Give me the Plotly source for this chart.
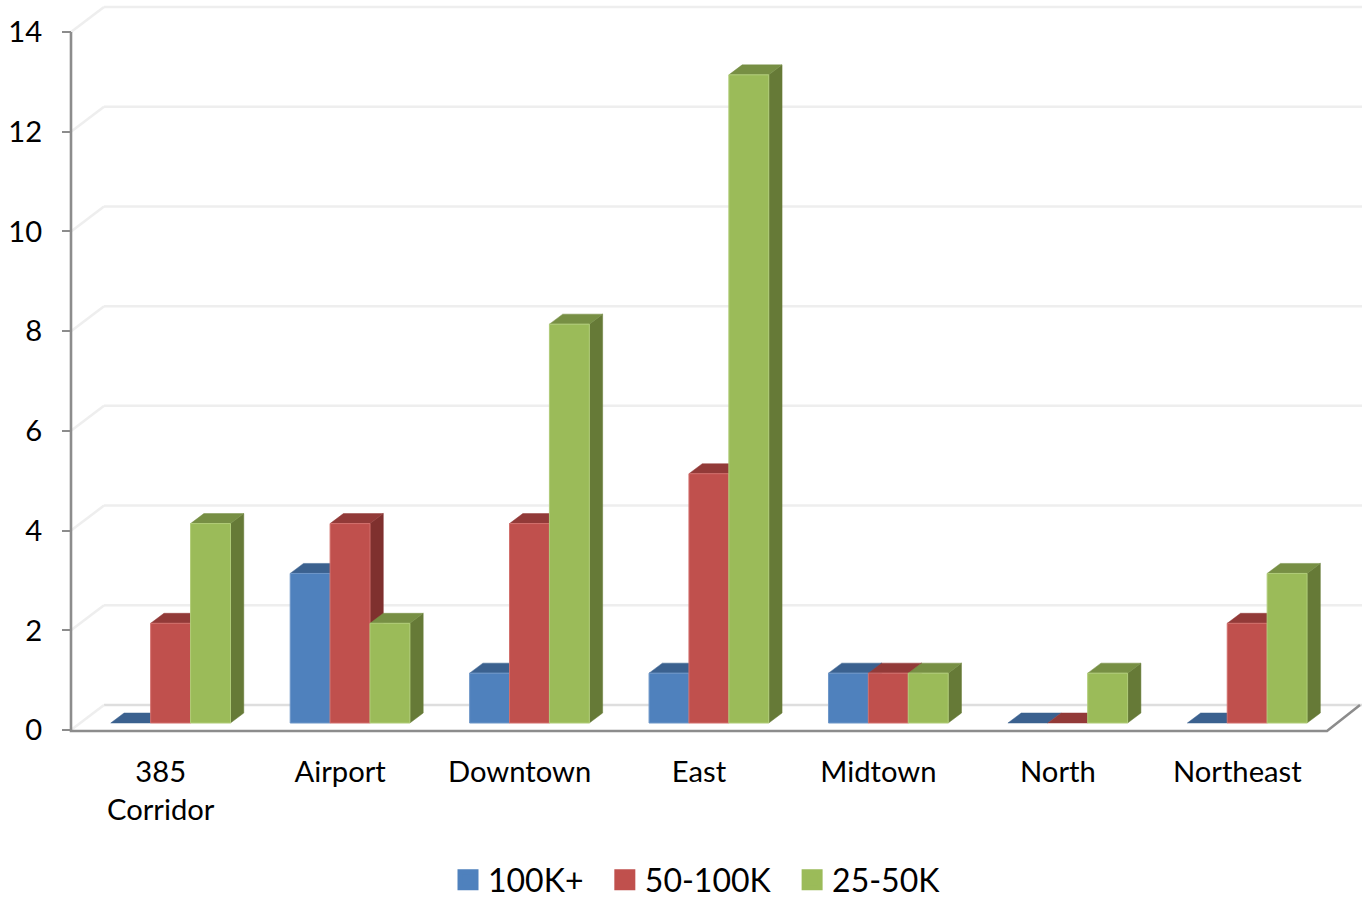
import plotly.graph_objects as go

# Chart data
CATEGORIES = ["385<br>Corridor", "Airport", "Downtown", "East", "Midtown", "North", "Northeast"]
SERIES_NAMES = ["100K+", "50-100K", "25-50K"]
VALUES_100K = [0, 3, 1, 1, 1, 0, 0]
VALUES_50K = [2, 4, 4, 5, 1, 0, 2]
VALUES_25K = [4, 2, 8, 13, 1, 1, 3]
Y_TICKS = [0, 2, 4, 6, 8, 10, 12, 14]

# Face colours per series: front, top, side, front edge
FRONT = ["#4F81BD", "#C0504D", "#9BBB59"]
TOP = ["#3B618F", "#923A38", "#778F44"]
SIDE = ["#355680", "#7F302E", "#667A37"]
EDGE = ["#6F97C8", "#D26F6C", "#B0CC78"]

# Layout of the pseudo-3D box, in pixels
WIDTH, HEIGHT = 1366, 898
AXIS_LEFT, AXIS_BASE = 71, 730
PX_PER_CAT = 179.43
PX_PER_UNIT = 49.857

# The same offsets converted to axis units
to_x = lambda px: px / PX_PER_CAT
to_y = lambda px: px / PX_PER_UNIT
BAR_W = to_x(39.9)
BAR_SHIFT = to_x(9.9)
DEPTH_X, DEPTH_Y = to_x(13.3), to_y(10)
BASE_Y = to_y(7)
WALL_X, WALL_Y = to_x(33), to_y(25)

# Axis position of the front-left corner, and the full extent of the page
X_CORNER = -0.5
X_LOW = X_CORNER - to_x(AXIS_LEFT)
X_HIGH = X_CORNER + to_x(WIDTH - AXIS_LEFT)
Y_LOW = -to_y(HEIGHT - AXIS_BASE)
Y_HIGH = to_y(AXIS_BASE)
X_FRONT_END = X_CORNER + to_x(1327 - AXIS_LEFT)
FLOOR_EDGE = -to_y(1)

# Padding after a legend entry, to open up the gap before the next swatch
LEGEND_PAD = "\u00a0\u00a0"


def line(xs, ys, color, width):
    return go.Scatter(x=xs, y=ys, mode="lines", line=dict(color=color, width=width),
                      hoverinfo="skip", showlegend=False)


def faces(color, edge, width, xs, ys):
    return go.Scatter(x=xs, y=ys, mode="lines", fill="toself", fillcolor=color,
                      line=dict(color=edge, width=width), hoverinfo="skip",
                      showlegend=False)


fig = go.Figure()

# Back and side walls: one grid line per tick
for t in Y_TICKS:
    col = "#DEDEDE" if t == 0 else "#EEEEEE"
    fig.add_trace(line([X_CORNER + WALL_X, X_HIGH - to_x(4)], [t + WALL_Y, t + WALL_Y], col, 2.5))
    fig.add_trace(line([X_CORNER, X_CORNER + WALL_X], [t, t + WALL_Y], "#EEEEEE", 2.5))

# Bars, left to right within each group so that nearer faces overlap correctly
for s, values in enumerate([VALUES_100K, VALUES_50K, VALUES_25K]):
    fx, fy, tx, ty, sx, sy = [], [], [], [], [], []
    for i, v in enumerate(values):
        x0 = i + BAR_SHIFT + (s - 1.5) * BAR_W
        x1 = x0 + BAR_W
        y0, y1 = BASE_Y, BASE_Y + v
        tx += [x0, x1, x1 + DEPTH_X, x0 + DEPTH_X, x0, None]
        ty += [y1, y1, y1 + DEPTH_Y, y1 + DEPTH_Y, y1, None]
        if v > 0:
            fx += [x0, x1, x1, x0, x0, None]
            fy += [y0, y0, y1, y1, y0, None]
            sx += [x1, x1 + DEPTH_X, x1 + DEPTH_X, x1, x1, None]
            sy += [y0, y0 + DEPTH_Y, y1 + DEPTH_Y, y1, y0, None]
    fig.add_trace(faces(SIDE[s], SIDE[s], 0.5, sx, sy))
    fig.add_trace(faces(TOP[s], TOP[s], 0.5, tx, ty))
    fig.add_trace(faces(FRONT[s], EDGE[s], 1, fx, fy))

# Axis frame: vertical axis, front floor edge and right floor edge
fig.add_trace(line([X_CORNER, X_CORNER, X_FRONT_END, X_FRONT_END + WALL_X],
                   [Y_TICKS[-1], FLOOR_EDGE, FLOOR_EDGE, WALL_Y], "#8C8C8C", 2.6))

# Square legend swatches
for s, name in enumerate(SERIES_NAMES):
    label = name if s == len(SERIES_NAMES) - 1 else name + LEGEND_PAD
    fig.add_trace(go.Scatter(x=[None], y=[None], mode="markers", name=label,
                             marker=dict(symbol="square", size=16, color=FRONT[s],
                                         line=dict(width=5, color=FRONT[s])),
                             hoverinfo="skip"))

FAMILY = "Lato, 'Open Sans', sans-serif"
FONT = dict(family=FAMILY, size=29.2, color="#000000")
LEGEND_FONT = dict(family=FAMILY, size=32, color="#000000")

fig.update_layout(
    width=WIDTH, height=HEIGHT,
    margin=dict(l=0, r=0, t=0, b=0, pad=0, autoexpand=False),
    paper_bgcolor="#FFFFFF", plot_bgcolor="#FFFFFF",
    font=FONT, showlegend=True, hovermode=False,
    xaxis=dict(range=[X_LOW, X_HIGH], domain=[0, 1], anchor="free",
               position=(HEIGHT - AXIS_BASE) / HEIGHT,
               tickmode="array", tickvals=list(range(len(CATEGORIES))),
               ticktext=CATEGORIES, ticks="", showgrid=False, zeroline=False, showline=False,
               tickangle=0, tickfont=FONT, automargin=False, ticklabelstandoff=22),
    yaxis=dict(range=[Y_LOW, Y_HIGH], domain=[0, 1], anchor="free",
               position=AXIS_LEFT / WIDTH,
               tickmode="array", tickvals=Y_TICKS, ticktext=[str(t) for t in Y_TICKS],
               ticks="outside", ticklen=9, tickwidth=2.2, tickcolor="#8C8C8C",
               showgrid=False, zeroline=False, showline=False, tickfont=FONT,
               automargin=False, ticklabelstandoff=14),
    legend=dict(orientation="h", x=448 / WIDTH, xanchor="left",
                y=(HEIGHT - 880) / HEIGHT, yanchor="middle",
                bgcolor="rgba(0,0,0,0)", font=LEGEND_FONT, itemsizing="trace"),
)

fig.write_html("out.html", config={"displayModeBar": False})
